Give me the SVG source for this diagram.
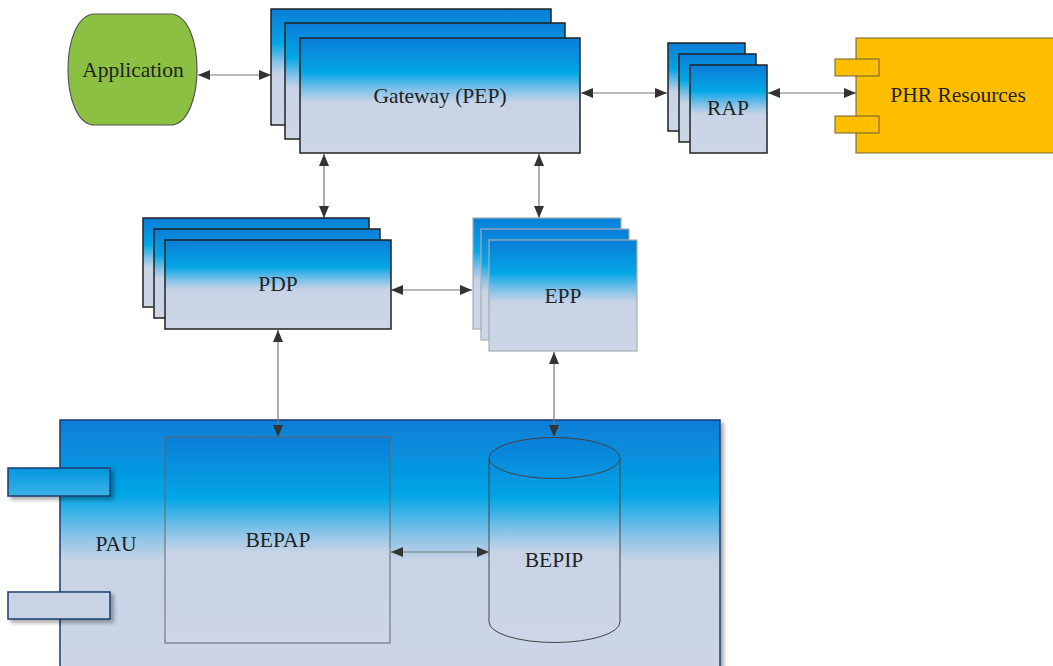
<svg xmlns="http://www.w3.org/2000/svg" width="1053" height="666" viewBox="0 0 1053 666">
<style>
.t{font-family:"Liberation Serif","Times New Roman",serif;font-size:21.5px;fill:#222;text-anchor:middle;dominant-baseline:central}
.box{fill:url(#g);stroke:#222;stroke-width:1.5}
.boxl{fill:url(#g);stroke:#a6adb5;stroke-width:1.2}
.thin{fill:url(#g);stroke:#666;stroke-width:1}
.c{stroke:#777;stroke-width:1.2;fill:none;marker-start:url(#ah);marker-end:url(#ah)}
</style>
<defs>
<linearGradient id="g" x1="0" y1="0" x2="0" y2="1">
<stop offset="0" stop-color="#0a7dd7"/>
<stop offset="0.3" stop-color="#03a6e6"/>
<stop offset="0.45" stop-color="#80c1e8"/>
<stop offset="0.56" stop-color="#c8d4e6"/>
<stop offset="1" stop-color="#ccd6e6"/>
</linearGradient>
<linearGradient id="gp" x1="0" y1="0" x2="0" y2="1">
<stop offset="0" stop-color="#0a7dd7"/>
<stop offset="0.28" stop-color="#03a6e6"/>
<stop offset="0.42" stop-color="#80c1e8"/>
<stop offset="0.52" stop-color="#c8d4e6"/>
<stop offset="1" stop-color="#ccd6e6"/>
</linearGradient>
<linearGradient id="gt" x1="0" y1="0" x2="0" y2="1">
<stop offset="0" stop-color="#0395dd"/>
<stop offset="1" stop-color="#3ab4e8"/>
</linearGradient>
<filter id="sh" x="-5%" y="-5%" width="115%" height="130%">
<feDropShadow dx="3" dy="3" stdDeviation="2" flood-color="#000" flood-opacity="0.35"/>
</filter>
<marker id="ah" viewBox="0 0 12 10" refX="12" refY="5" markerWidth="12" markerHeight="10" markerUnits="userSpaceOnUse" orient="auto-start-reverse">
<path d="M0,0 L12,5 L0,10 Z" fill="#333"/>
</marker>
</defs>

<g id="connectors">
<line class="c" x1="198" y1="75" x2="271" y2="75"/>
<line class="c" x1="581" y1="93" x2="667" y2="93"/>
<line class="c" x1="768" y1="93" x2="856" y2="93"/>
<line class="c" x1="324" y1="154" x2="324" y2="218"/>
<line class="c" x1="539" y1="154" x2="539" y2="218"/>
<line class="c" x1="391" y1="290" x2="472" y2="290"/>
</g>

<g id="application">
<path d="M95,14 H170 C206,14 206,125 170,125 H95 C59,125 59,14 95,14 Z" fill="#8bc043" stroke="#555" stroke-width="1.2"/>
<text class="t" x="133" y="70">Application</text>
</g>

<g id="gateway">
<rect class="box" x="271" y="9" width="280" height="116"/>
<rect class="box" x="285" y="23" width="280" height="116"/>
<rect class="box" x="300" y="38" width="280" height="115"/>
<text class="t" x="440" y="96">Gateway (PEP)</text>
</g>

<g id="rap">
<rect class="box" x="668" y="43" width="77" height="88"/>
<rect class="box" x="679" y="54" width="77" height="88"/>
<rect class="box" x="690" y="65" width="77" height="88"/>
<text class="t" x="728" y="108">RAP</text>
</g>

<g id="phr">
<rect x="856" y="38" width="210" height="115" fill="#ffbf00" stroke="#6b6030" stroke-width="1"/>
<rect x="835" y="59" width="44" height="17" fill="#ffbf00" stroke="#6b6030" stroke-width="1"/>
<rect x="835" y="116" width="44" height="17" fill="#ffbf00" stroke="#6b6030" stroke-width="1"/>
<text class="t" x="958" y="95">PHR Resources</text>
</g>

<g id="pdp">
<rect class="box" x="143" y="218" width="226" height="89"/>
<rect class="box" x="154" y="229" width="226" height="89"/>
<rect class="box" x="165" y="240" width="226" height="89"/>
<text class="t" x="278" y="284">PDP</text>
</g>

<g id="epp">
<rect class="boxl" x="473" y="218" width="148" height="111"/>
<rect class="boxl" x="481" y="229" width="148" height="111"/>
<rect class="boxl" x="489" y="240" width="148" height="111"/>
<text class="t" x="563" y="296">EPP</text>
</g>

<g id="pau">
<rect x="60" y="420" width="660" height="270" fill="url(#gp)" stroke="#1d3d6e" stroke-width="1.5" filter="url(#sh)"/>
<rect x="8" y="468" width="102" height="28" fill="url(#gt)" stroke="#1d3d6e" stroke-width="1.5" filter="url(#sh)"/>
<rect x="8" y="592" width="102" height="27" fill="#c9d4e6" stroke="#1d3d6e" stroke-width="1.5" filter="url(#sh)"/>
<text class="t" x="116" y="544">PAU</text>
</g>

<g id="bepap">
<rect class="thin" x="165" y="437" width="225" height="206"/>
<text class="t" x="278" y="540">BEPAP</text>
</g>

<g id="bepip">
<path d="M489,458 A65.5,20.5 0 0 1 620,458 V622 A65.5,20.5 0 0 1 489,622 Z" fill="url(#g)" stroke="#444" stroke-width="1"/>
<path d="M489,458 A65.5,20.5 0 0 0 620,458" fill="none" stroke="#444" stroke-width="1"/>
<text class="t" x="554" y="560">BEPIP</text>
</g>

<g id="connectors2">
<line class="c" x1="278" y1="330" x2="278" y2="437"/>
<line class="c" x1="554" y1="352" x2="554" y2="437"/>
<line class="c" x1="391" y1="552" x2="489" y2="552"/>
</g>
</svg>
